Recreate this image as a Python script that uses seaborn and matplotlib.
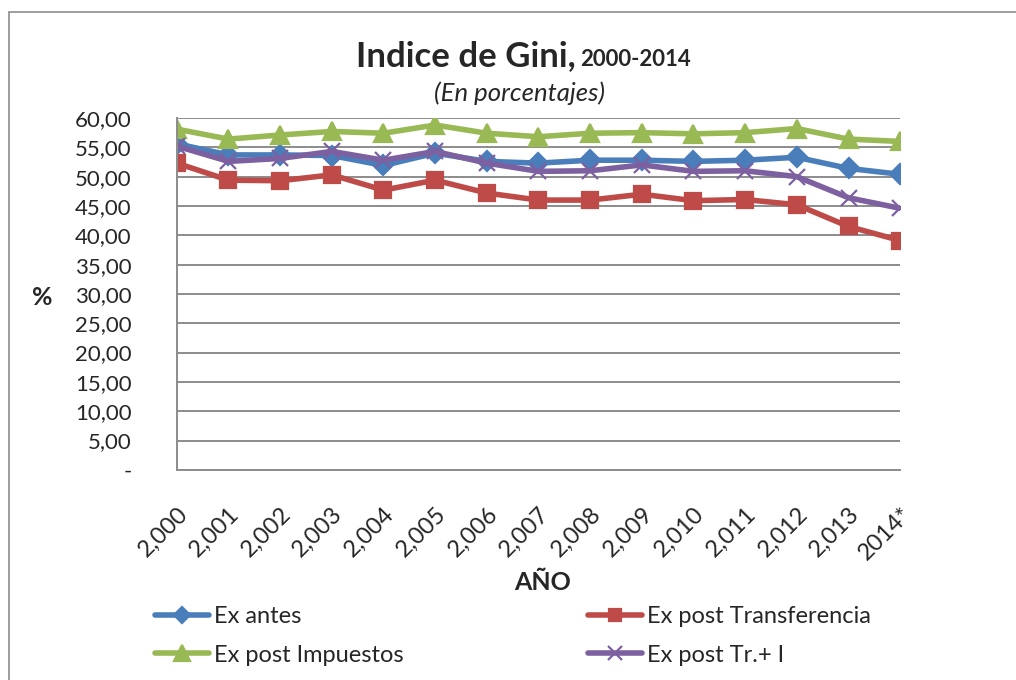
import matplotlib
matplotlib.use("Agg")
import matplotlib.pyplot as plt
import seaborn as sns
import pandas as pd
from matplotlib.patches import Rectangle

sns.set_style("white")
plt.rcParams['font.family'] = ['Lato', 'DejaVu Sans']

# datos
anios = ["2,000", "2,001", "2,002", "2,003", "2,004", "2,005", "2,006", "2,007",
         "2,008", "2,009", "2,010", "2,011", "2,012", "2,013", "2014*"]
ex_antes = [55.6, 53.7, 53.7, 53.6, 51.9, 54.0, 52.6, 52.3, 52.8, 52.8, 52.6, 52.8, 53.3, 51.4, 50.4]
ex_post_transf = [52.3, 49.4, 49.3, 50.3, 47.7, 49.4, 47.2, 46.0, 46.0, 47.0, 45.9, 46.1, 45.2, 41.5, 39.1]
ex_post_imp = [58.1, 56.4, 57.1, 57.7, 57.4, 58.8, 57.4, 56.8, 57.4, 57.5, 57.3, 57.5, 58.2, 56.4, 56.0]
ex_post_tri = [55.2, 52.6, 53.1, 54.3, 52.8, 54.3, 52.3, 50.9, 51.0, 52.0, 50.9, 51.0, 50.0, 46.4, 44.6]
yticks = [0, 5, 10, 15, 20, 25, 30, 35, 40, 45, 50, 55, 60]

series = [
    ("Ex antes", ex_antes, "#4A7EBB", "D", 10),
    ("Ex post Transferencia", ex_post_transf, "#BE4B48", "s", 11),
    ("Ex post Impuestos", ex_post_imp, "#98B954", "^", 13),
    ("Ex post Tr.+ I", ex_post_tri, "#7D60A0", "x", 12),
]

fig = plt.figure(figsize=(10.16, 6.8), dpi=100)
ax = fig.add_axes([0.174, 0.309, 0.712, 0.5175])

pos = list(range(len(anios)))
for nombre, vals, color, marca, tam in series:
    df = pd.DataFrame({"x": pos, "y": vals})
    sns.lineplot(data=df, x="x", y="y", ax=ax, color=color, linewidth=4,
                 marker=marca, markersize=tam, markeredgecolor=color,
                 markeredgewidth=1.6, label=nombre)

ax.set_xlim(0, len(anios) - 1)
ax.set_ylim(0, 60)
ax.set_yticks(yticks)
ax.set_yticklabels(["-"] + [f"{v:.2f}".replace(".", ",") for v in yticks[1:]], fontsize=16)
ax.set_xticks(pos)
ax.set_xticklabels(anios, rotation=45, ha="right", rotation_mode="anchor", fontsize=17)
ax.grid(axis="y", color="#8c8c8c", linewidth=1.4)
ax.set_axisbelow(True)
for s in ["top", "right"]:
    ax.spines[s].set_visible(False)
for s in ["left", "bottom"]:
    ax.spines[s].set_color("#8c8c8c")
    ax.spines[s].set_linewidth(1.4)
ax.tick_params(axis="y", direction="out", length=6.5, color="#8c8c8c", width=1.2, pad=26)
ax.tick_params(axis="x", direction="out", length=5, color="#8c8c8c", width=1.2, pad=19)
ax.set_xlabel("")
ax.set_ylabel("")

fig.text(0.042, 0.563, "%", fontsize=18, fontweight="bold", ha="center", va="center")
fig.text(0.534, 0.144, "AÑO", fontsize=18, fontweight="bold", ha="center", va="center")
fig.text(0.567, 0.918, "Indice de Gini,", fontsize=25, fontweight="bold", ha="right", va="center")
fig.text(0.571, 0.913, "2000-2014", fontsize=16, fontweight="bold", ha="left", va="center")
fig.text(0.511, 0.863, "(En porcentajes)", fontsize=18.5, style="italic", ha="center", va="center")

# orden por columnas: antes, impuestos | transferencia, tr+i
h, l = ax.get_legend_handles_labels()
orden = [0, 2, 1, 3]
ax.legend([h[i] for i in orden], [l[i] for i in orden],
          loc="upper left", bbox_to_anchor=(143 / 1016, 1 - 594 / 680),
          bbox_transform=fig.transFigure, ncol=2, frameon=False, borderpad=0,
          fontsize=17, columnspacing=7.8, handlelength=2.3, handletextpad=0.2,
          labelspacing=0.75, markerscale=0.85)

fig.patches.append(Rectangle((0.009, -0.1), 1.2, 1.082, transform=fig.transFigure,
                             fill=False, edgecolor="#8c8c8c", linewidth=1.2))

plt.savefig("out.png", dpi=100)
